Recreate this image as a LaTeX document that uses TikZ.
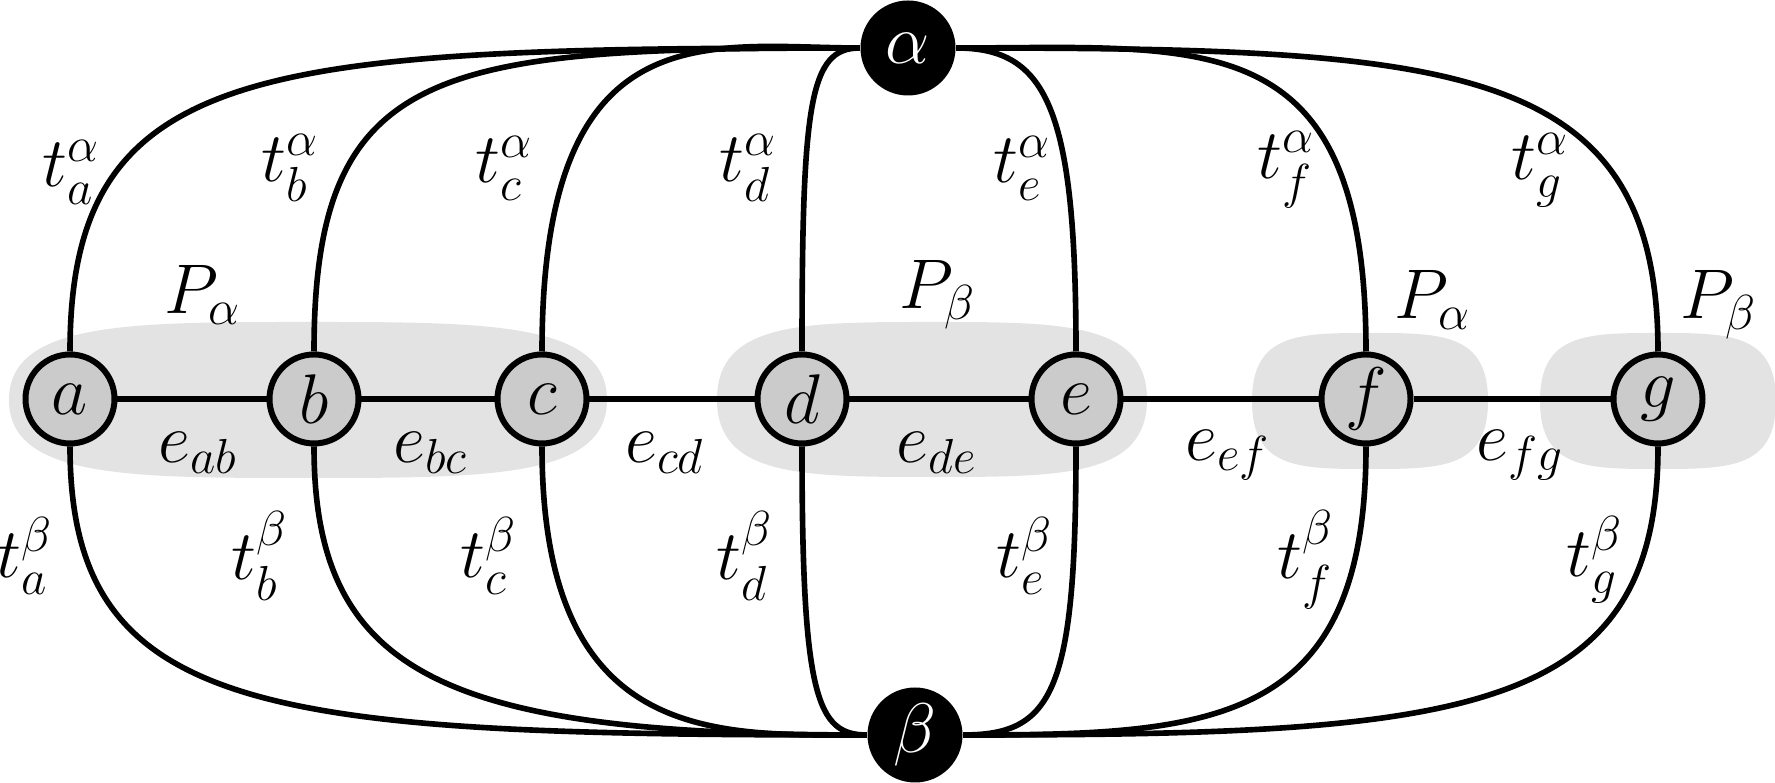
\documentclass[tikz,border=0pt]{standalone}
\usepackage{fix-cm}
\usepackage{amsmath}
\usepackage{tikz}
\definecolor{blobgray}{HTML}{E3E3E3}
\definecolor{vertgray}{HTML}{CBCBCB}
\newcommand{\tl}[2]{$t^{#2}_{#1}$}
\newcommand{\el}[1]{$e_{#1}$}
\newcommand{\pl}[1]{$P_{#1}$}
% grey group behind vertices: left, bottom, right, top
\newcommand{\blob}[4]{%
  \fill[blobgray] (#1,{(#2+#4)/2}) .. controls (#1,#4) and ({#1+0.4*((#3-#1)/2)},#4) .. ({(#1+#3)/2},#4)
    .. controls ({#3-0.4*((#3-#1)/2)},#4) and (#3,#4) .. (#3,{(#2+#4)/2})
    .. controls (#3,#2) and ({#3-0.4*((#3-#1)/2)},#2) .. ({(#1+#3)/2},#2)
    .. controls ({#1+0.4*((#3-#1)/2)},#2) and (#1,#2) .. cycle;}

\begin{document}
\begin{tikzpicture}[font=\fontsize{20}{24}\selectfont,
  vert/.style={circle,draw=black,line width=1.7pt,fill=vertgray,minimum size=0.89cm,inner sep=0pt},
  hub/.style={circle,fill=black,text=white,minimum size=0.95cm,inner sep=0pt},
  wire/.style={black,line width=1.6pt}]
  \useasboundingbox (0,0) rectangle (17.75,7.83);

  \blob{0.09}{3.05}{6.07}{4.61}
  \blob{7.17}{3.06}{11.47}{4.61}
  \blob{12.52}{3.14}{14.88}{4.50}
  \blob{15.40}{3.14}{17.76}{4.50}

  \node[vert] (a) at (0.70,3.84) {$a$};
  \node[vert] (b) at (3.14,3.84) {$b$};
  \node[vert] (c) at (5.42,3.84) {$c$};
  \node[vert] (d) at (8.02,3.84) {$d$};
  \node[vert] (e) at (10.76,3.84) {$e$};
  \node[vert] (f) at (13.66,3.84) {$f$};
  \node[vert] (g) at (16.58,3.84) {$g$};
  \node[hub] (alpha) at (9.08,7.35) {$\alpha$};
  \node[hub] (beta) at (9.15,0.48) {$\beta$};

  \draw[wire] (a) -- (b);
  \draw[wire] (b) -- (c);
  \draw[wire] (c) -- (d);
  \draw[wire] (d) -- (e);
  \draw[wire] (e) -- (f);
  \draw[wire] (f) -- (g);

  \draw[wire] (a.north) .. controls +(0,2.9) and +(-6,0) .. (alpha.west);
  \draw[wire] (b.north) .. controls +(0,2.9) and +(-4.2,0) .. (alpha.west);
  \draw[wire] (c.north) .. controls +(0,3.45) and +(-1.5,0) .. (alpha.west);
  \draw[wire] (d.north) .. controls +(0,2.5) and +(-0.5,0) .. (alpha.west);
  \draw[wire] (e.north) .. controls +(0,2.45) and +(0.9,0) .. (alpha.east);
  \draw[wire] (f.north) .. controls +(0,3.3) and +(2.5,0) .. (alpha.east);
  \draw[wire] (g.north) .. controls +(0,2.9) and +(5,0) .. (alpha.east);

  \draw[wire] (a.south) .. controls +(0,-2.7) and +(-6,0) .. (beta.west);
  \draw[wire] (b.south) .. controls +(0,-2.3) and +(-4.2,0) .. (beta.west);
  \draw[wire] (c.south) .. controls +(0,-3.0) and +(-1.5,0) .. (beta.west);
  \draw[wire] (d.south) .. controls +(0,-2.5) and +(-0.5,0) .. (beta.west);
  \draw[wire] (e.south) .. controls +(0,-2.45) and +(0.9,0) .. (beta.east);
  \draw[wire] (f.south) .. controls +(0,-2.8) and +(2.5,0) .. (beta.east);
  \draw[wire] (g.south) .. controls +(0,-2.7) and +(5,0) .. (beta.east);

  \node (taa) at (0.71,6.11) {\tl{a}{\alpha}};
  \node (tba) at (2.90,6.15) {\tl{b}{\alpha}};
  \node (tca) at (5.04,6.15) {\tl{c}{\alpha}};
  \node (tda) at (7.48,6.15) {\tl{d}{\alpha}};
  \node (tea) at (10.22,6.15) {\tl{e}{\alpha}};
  \node (tfa) at (12.86,6.13) {\tl{f}{\alpha}};
  \node (tga) at (15.40,6.13) {\tl{g}{\alpha}};

  \node (tab) at (0.25,2.27) {\tl{a}{\beta}};
  \node (tbb) at (2.60,2.27) {\tl{b}{\beta}};
  \node (tcb) at (4.89,2.27) {\tl{c}{\beta}};
  \node (tdb) at (7.45,2.27) {\tl{d}{\beta}};
  \node (teb) at (10.25,2.27) {\tl{e}{\beta}};
  \node (tfb) at (13.06,2.23) {\tl{f}{\beta}};
  \node (tgb) at (15.95,2.23) {\tl{g}{\beta}};

  \node (eab) at (1.98,3.30) {\el{ab}};
  \node (ebc) at (4.31,3.30) {\el{bc}};
  \node (ecd) at (6.65,3.30) {\el{cd}};
  \node (ede) at (9.37,3.30) {\el{de}};
  \node (eef) at (12.28,3.28) {\el{ef}};
  \node (efg) at (15.20,3.28) {\el{fg}};

  \node (pa1) at (2.03,4.88) {\pl{\alpha}};
  \node (pb1) at (9.38,4.88) {\pl{\beta}};
  \node (pa2) at (14.33,4.83) {\pl{\alpha}};
  \node (pb2) at (17.19,4.78) {\pl{\beta}};
\end{tikzpicture}
\end{document}
